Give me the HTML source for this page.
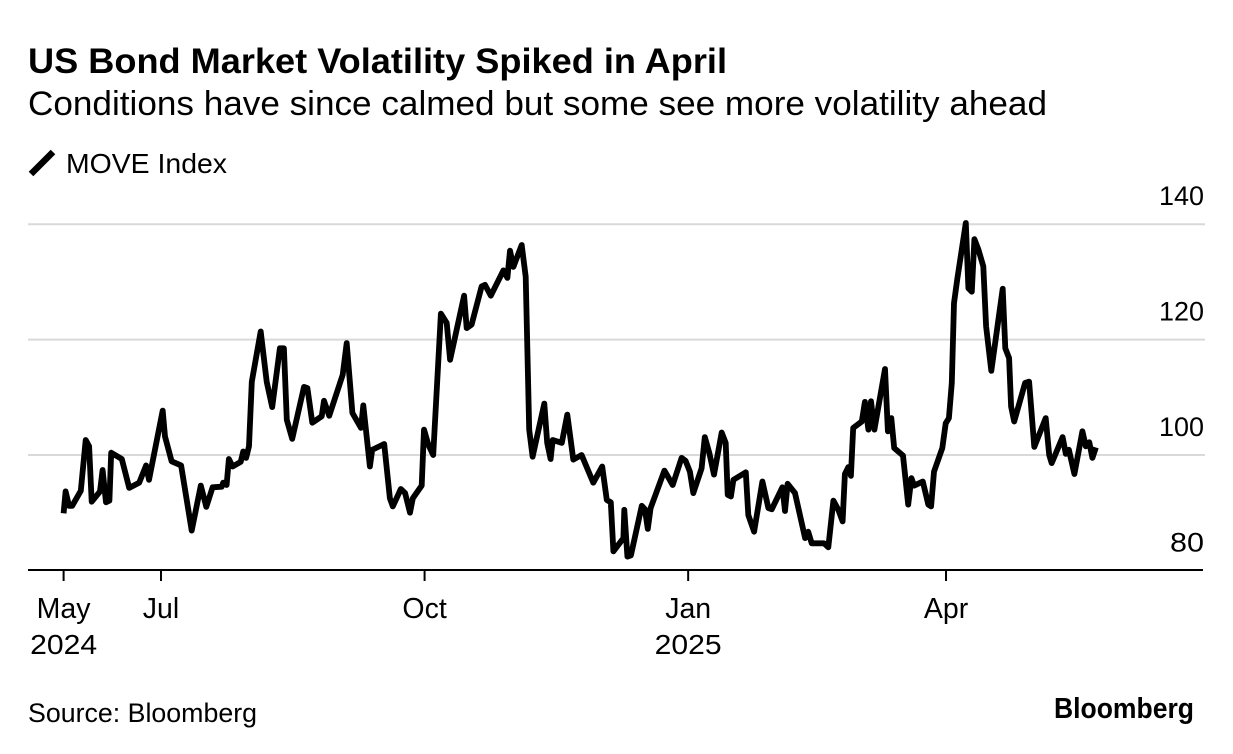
<!DOCTYPE html>
<html lang="en">
<head>
<meta charset="utf-8">
<title>US Bond Market Volatility Spiked in April</title>
<style>
html,body{margin:0;padding:0;background:#fff;width:1233px;height:754px;overflow:hidden}
svg{display:block}
text{font-family:"Liberation Sans",sans-serif;fill:#000}
</style>
</head>
<body>
<svg id="chart" xmlns="http://www.w3.org/2000/svg" width="1233" height="754" viewBox="0 0 1233 754">
  <text x="28" y="73" font-size="35" font-weight="700" textLength="699" lengthAdjust="spacingAndGlyphs">US Bond Market Volatility Spiked in April</text>
  <text x="28" y="115" font-size="34" textLength="1019" lengthAdjust="spacingAndGlyphs">Conditions have since calmed but some see more volatility ahead</text>
  <line x1="31" y1="174" x2="53" y2="152" stroke="#000" stroke-width="6.5" stroke-linecap="butt"/>
  <text x="66" y="173" font-size="27.5" textLength="161" lengthAdjust="spacingAndGlyphs">MOVE Index</text>
  <g id="grid"></g>
  <g id="y-labels"></g>
  <g id="x-axis"></g>
  <path id="series" fill="none" stroke="#000" stroke-width="5.8" stroke-linejoin="round" stroke-linecap="butt"/>
  <text x="28" y="722" font-size="26.5" textLength="229" lengthAdjust="spacingAndGlyphs">Source: Bloomberg</text>
  <text x="1054" y="718" font-size="29" font-weight="700" textLength="140" lengthAdjust="spacingAndGlyphs">Bloomberg</text>
</svg>
<script>
// Days elapsed since the first observation (28 May 2024)
const observationDays = [0,0.7,1.9,3,6,7.7,8.9,9.8,12.7,13.6,14.8,16,16.6,20.3,22.9,26.4,28.8,29.8,34.6,35.4,37.7,41,44.7,47.9,49.8,52,55.2,55.7,56.9,57.7,59,61.8,62.7,63.7,64.7,65.7,68.8,70.9,72.8,75.5,76.9,77.9,79.8,83.9,85.1,86.8,90.1,90.9,92.7,97.4,98.8,100.8,103.8,104.6,106.9,107.7,111.9,113.9,114.9,117.7,119.2,120.9,121.9,125,125.8,127.3,129,131.7,133.7,134.9,139.8,140.7,142.4,145.9,147.1,149.1,153.5,154.9,155.8,157,159.9,161.3,162.5,163.7,167.8,168.8,170,170.7,173.9,175.8,177.9,180.8,184.9,188,189.6,191,191.9,195.4,195.7,196.8,198,201.8,202.9,203.9,204.9,209.7,212.6,215.7,217.1,218.6,219.8,222.7,223.8,225.4,227,229.7,231.1,231.8,232.9,233.8,238.1,239,241,243.9,246,247.2,250.9,251.8,252.7,255.3,258.8,259.9,261.1,265.4,266.9,268.7,270.4,271.9,272.7,273.9,274.8,275.6,278.6,279.7,280.9,281.8,283,286.7,287.7,288.9,289.9,293,294.8,295.9,296.9,299.9,301.8,302.8,303.8,306.7,307.9,309,310,310.8,311.9,314.9,315.8,317,317.9,319.3,321,322,323.8,327.8,328.7,330,330.7,331.8,335.6,337,338.8,342.8,344,344.9,348.7,349.8,350.9,352.8,355.6,356.8,358,359.1,360.3];
// MOVE Index readings matching observationDays
const moveValues = [89.9,93.7,91.2,91.2,93.8,102.6,101.5,91.9,93.7,97.4,91.8,92.1,100.4,99.3,94.3,95.2,98.2,95.7,107.7,103.2,98.9,98.2,86.9,94.7,91,94.4,94.5,95.2,94.8,99.3,98,98.8,100.6,99.5,101.5,112.7,121.4,112.7,108.3,118.5,118.5,106.1,102.8,111.8,111.6,105.6,106.7,109.4,106.8,113.9,119.4,107.3,104.7,108.6,98,100.9,101.9,92.5,91.1,94.1,93.4,90,92.5,94.7,104.4,101.8,100,124.5,122.9,116.5,127.6,122,122.6,129.2,129.5,127.6,132,130.7,135.4,132.6,136.4,130.9,104.4,99.7,108.9,102.1,99.3,102.6,102.1,107,99.2,100,95.2,98,92.2,91.8,83.3,85.6,90.5,82.4,82.6,91.2,90.6,87.2,90.8,97.3,94.8,99.5,99,97.1,93.4,97.7,103.1,100.3,96.6,103.9,102.1,93.1,92.8,95.7,97,89.6,86.7,95.4,90.8,90.6,94.4,90.3,95,93.4,85.6,86.7,84.7,84.7,84,92.1,90.5,88.5,96.7,97.9,96.4,104.7,105.8,109.2,104.4,109.3,104.4,114.9,104.1,106.4,101.2,99.9,91.4,96,94.7,95.4,91.4,91.1,97.1,101.2,105.5,106.4,112.5,126.3,130.4,140.2,128.9,128.3,137.4,135.6,132.7,122.3,114.6,128.8,118.5,116.8,108.4,105.8,112.5,112.7,101.4,106.4,100,98.6,103.1,100.2,100.9,96.7,104.1,101.5,102.2,99.5,101.3];
const yTickValues = [140,120,100,80];
const gridValues = [140,120,100];
const xTickDays = [0,34,126,218,308];
const xTickMonths = ["May","Jul","Oct","Jan","Apr"];
const xTickYears = ["2024","","","2025",""];

const NS = "http://www.w3.org/2000/svg";
function xScale(day){ return 63.6 + day * 2.865; }
function yScale(value){ return 570.4 - (value - 80) * 5.77; }
function make(tag, attrs, parent, txt){
  const el = document.createElementNS(NS, tag);
  for (const k in attrs) el.setAttribute(k, attrs[k]);
  if (txt !== undefined) el.textContent = txt;
  parent.appendChild(el);
  return el;
}
const gridGroup = document.getElementById("grid");
gridValues.forEach(function(v){
  const el = make("line", {x1:28, x2:1205, y1:yScale(v), y2:yScale(v), stroke:"#d9d9d9", "stroke-width":2}, gridGroup);
  
  
});
const yLabelGroup = document.getElementById("y-labels");
yTickValues.forEach(function(v){
  const el = make("text", {x:1204, y:yScale(v) - 19, "text-anchor":"end", "font-size":27}, yLabelGroup, String(v));
  
  
  el.setAttribute('textLength', String(v).length === 2 ? '34' : '45');
  el.setAttribute('lengthAdjust', 'spacingAndGlyphs');
});
const xAxisGroup = document.getElementById("x-axis");
const baseline = make("line", {x1:28, x2:1203, y1:570, y2:570, stroke:"#000", "stroke-width":2}, xAxisGroup);


xTickDays.forEach(function(d, i){
  const tick = make("line", {x1:xScale(d), x2:xScale(d), y1:570, y2:581, stroke:"#000", "stroke-width":2}, xAxisGroup);
  
  
  const month = make("text", {x:xScale(d), y:618, "text-anchor":"middle", "font-size":28.5}, xAxisGroup, xTickMonths[i]);
  
  
  if (xTickYears[i]) {
    const year = make("text", {x:xScale(d), y:654, "text-anchor":"middle", "font-size":28}, xAxisGroup, xTickYears[i]);
    
    
    year.setAttribute('textLength', '67');
    year.setAttribute('lengthAdjust', 'spacingAndGlyphs');
  }
});
document.getElementById("series").setAttribute("d", moveValues.map(function(v, i){
  return (i ? "L" : "M") + xScale(observationDays[i]).toFixed(1) + " " + yScale(v).toFixed(1);
}).join(" "));
</script>
</body>
</html>
